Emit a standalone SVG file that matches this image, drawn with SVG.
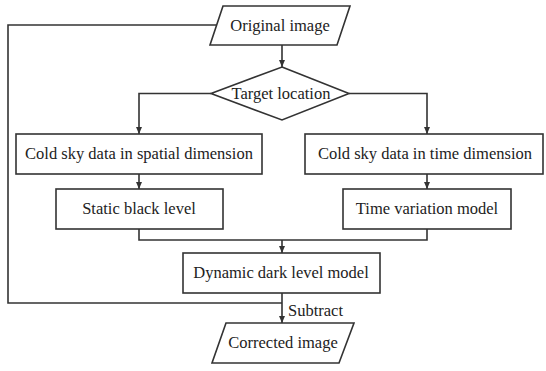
<svg xmlns="http://www.w3.org/2000/svg" width="546" height="371" viewBox="0 0 546 371" font-family="'Liberation Serif', 'Times New Roman', Times, serif">
<style>
.s{fill:#fff;stroke:#333;stroke-width:1.6}
.c{fill:none;stroke:#333;stroke-width:1.6}
text{font-family:'Liberation Serif','Times New Roman',Times,serif;font-size:16.5px;fill:#222;text-anchor:middle}
</style>
<defs>
<marker id="a" markerWidth="8" markerHeight="8" refX="7" refY="4" orient="auto" markerUnits="userSpaceOnUse">
<path d="M0,1 L7,4 L0,7 Z" fill="#333"/>
</marker>
</defs>
<rect width="546" height="371" fill="#fff"/>
<g id="connectors">
<path class="c" d="M216,25 H8 V303 H282"/>
<path class="c" d="M282,45 V67" marker-end="url(#a)"/>
<path class="c" d="M211,93.5 H139 V134" marker-end="url(#a)"/>
<path class="c" d="M349,93.5 H427 V134" marker-end="url(#a)"/>
<path class="c" d="M139,174 V189" marker-end="url(#a)"/>
<path class="c" d="M427,174 V189" marker-end="url(#a)"/>
<path class="c" d="M139,229 V240 H427 V229"/>
<path class="c" d="M282,240 V253" marker-end="url(#a)"/>
<path class="c" d="M282,293 V323" marker-end="url(#a)"/>
<text x="288" y="316" style="text-anchor:start" font-family="Liberation Serif">Subtract</text>
</g>
<g id="original">
<polygon class="s" points="223,6 350,6 337,45 210,45"/>
<text x="280" y="31" font-family="Liberation Serif">Original image</text>
</g>
<g id="target">
<polygon class="s" points="282,67 349,93.5 282,120 211,93.5"/>
<text x="281" y="99" font-family="Liberation Serif">Target location</text>
</g>
<g id="spatial">
<rect class="s" x="16" y="134" width="246" height="40"/>
<text x="139" y="159" font-family="Liberation Serif">Cold sky data in spatial dimension</text>
</g>
<g id="time">
<rect class="s" x="305" y="134" width="238" height="40"/>
<text x="425" y="159" font-family="Liberation Serif">Cold sky data in time dimension</text>
</g>
<g id="static">
<rect class="s" x="56" y="189" width="167" height="40"/>
<text x="139" y="214" font-family="Liberation Serif">Static black level</text>
</g>
<g id="variation">
<rect class="s" x="343" y="189" width="168" height="40"/>
<text x="427" y="214" font-family="Liberation Serif">Time variation model</text>
</g>
<g id="dynamic">
<rect class="s" x="183" y="253" width="197" height="40"/>
<text x="281" y="278" font-family="Liberation Serif">Dynamic dark level model</text>
</g>
<g id="corrected">
<polygon class="s" points="226,323 354,323 339,363 212,363"/>
<text x="283" y="348" font-family="Liberation Serif">Corrected image</text>
</g>
</svg>
